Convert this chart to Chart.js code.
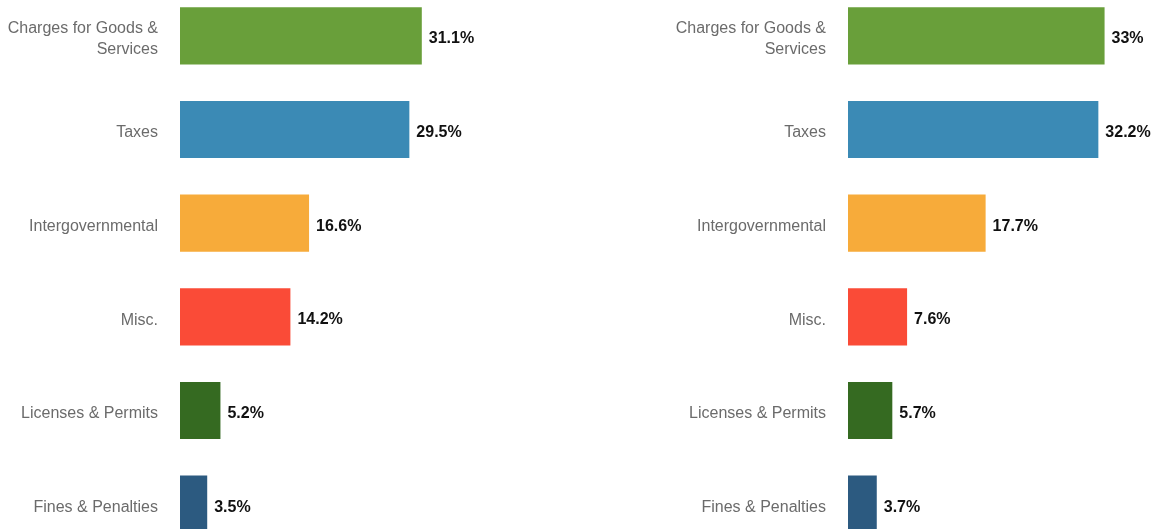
<!DOCTYPE html>
<html>
<head>
<meta charset="utf-8">
<script src="https://cdn.jsdelivr.net/npm/chart.js@4/dist/chart.umd.min.js"></script>
<style>
  html, body { margin: 0; padding: 0; background: #fff; overflow: hidden; width: 1159px; height: 529px; }
  .panel { position: absolute; top: -11px; }
  #left { left: 0; }
  #right { left: 668px; }
</style>
</head>
<body>
<canvas id="left" class="panel" width="491" height="562"></canvas>
<canvas id="right" class="panel" width="491" height="562"></canvas>
<script>
// Revenue categories, shared by both panels
const categories = [
  ["Charges for Goods &", "Services"],
  "Taxes",
  "Intergovernmental",
  "Misc.",
  "Licenses & Permits",
  "Fines & Penalties"
];

// Share of revenue (%) per category
const leftShares  = [31.1, 29.5, 16.6, 14.2, 5.2, 3.5];
const rightShares = [33, 32.2, 17.7, 7.6, 5.7, 3.7];

const barColors = ["#699f3a", "#3b8ab5", "#f7ab3a", "#fa4b37", "#356a21", "#2c5a80"];

const FONT = "'Helvetica Neue', Helvetica, 'Liberation Sans', Arial, sans-serif";

// Nudges the category labels a little lower so they sit on the bar centre optically
const labelNudge = {
  id: 'labelNudge',
  beforeDraw(chart) {
    chart.scales.y.getLabelItems().forEach(item => { item.textOffset += 3.5; });
  }
};

// Writes the percentage just past the end of each bar
const valueLabels = {
  id: 'valueLabels',
  afterDatasetsDraw(chart) {
    const ctx = chart.ctx;
    const meta = chart.getDatasetMeta(0);
    const data = chart.data.datasets[0].data;
    ctx.save();
    ctx.font = "bold 16px " + FONT;
    ctx.fillStyle = "#111";
    ctx.textAlign = "left";
    ctx.textBaseline = "middle";
    meta.data.forEach((bar, i) => {
      ctx.fillText(data[i] + "%", bar.x + 7, bar.y + 3);
    });
    ctx.restore();
  }
};

function makeChart(id, values) {
  return new Chart(document.getElementById(id), {
    type: 'bar',
    data: {
      labels: categories,
      datasets: [{
        data: values,
        backgroundColor: barColors,
        borderWidth: 0,
        categoryPercentage: 1,
        barPercentage: 0.61
      }]
    },
    options: {
      indexAxis: 'y',
      responsive: false,
      animation: false,
      layout: { padding: 0 },
      plugins: { legend: { display: false }, tooltip: { enabled: false } },
      scales: {
        x: { display: false, min: 0, max: 40 },
        y: {
          grid: { display: false, drawTicks: false },
          border: { display: false },
          afterFit(scale) {
            scale.width = 180;
            scale.paddingTop = 0;
            scale.paddingBottom = 0;
          },
          ticks: {
            padding: 22,
            color: "#6b6b6b",
            font: { family: FONT, size: 16, lineHeight: 1.3 }
          }
        }
      }
    },
    plugins: [labelNudge, valueLabels]
  });
}

makeChart('left', leftShares);
makeChart('right', rightShares);
</script>
</body>
</html>
